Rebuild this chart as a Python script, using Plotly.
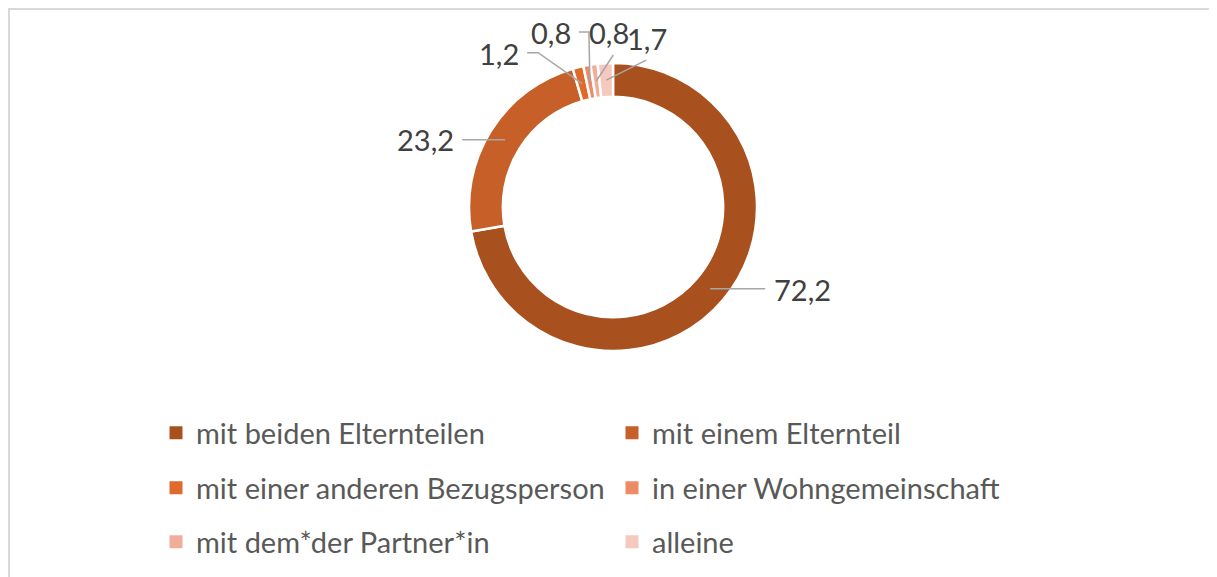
import math
import plotly.graph_objects as go

# ---- data ----
categories = [
    "mit beiden Elternteilen",
    "mit einem Elternteil",
    "mit einer anderen Bezugsperson",
    "in einer Wohngemeinschaft",
    "mit dem*der Partner*in",
    "alleine",
]
values = [72.2, 23.2, 1.2, 0.8, 0.8, 1.7]
value_labels = ["72,2", "23,2", "1,2", "0,8", "0,8", "1,7"]

# ---- style ----
colors = ["#A9501F", "#C65F28", "#E06A2C", "#EC8B66", "#F0AE9A", "#F5C9BD"]
WIN_W, WIN_H = 1217, 577
OFF = 8                      # page body margin
W, H = WIN_W - OFF, WIN_H - OFF
CX, CY, R_OUT = 613, 207, 144  # in window pixels
HOLE = 0.765
label_color = "#404040"
legend_color = "#595959"
FONT = "Lato"
FS = 29

# leader-line geometry relative to slice anchor
leaders = [
    dict(pts=[(55, 0)], text=(62, 1), xa="left"),
    dict(pts=[(-43, 0)], text=(-49, 0), xa="right"),
    dict(pts=[(-44, -31), (-55, -31)], text=(-61, -30), xa="right"),
    dict(pts=[(-1, -50), (-11, -50)], text=(-17, -50), xa="right"),
    dict(pts=[(17, -26)], text=(13, -49), xa="center"),
    dict(pts=[(40, -20)], text=(41, -42), xa="center"),
]


def px(sx):
    return (sx - OFF) / W


def py(sy):
    return (WIN_H - sy) / H


fig = go.Figure()

fig.add_trace(go.Pie(
    labels=categories,
    values=values,
    sort=False,
    direction="clockwise",
    rotation=0,
    hole=HOLE,
    marker=dict(colors=colors, line=dict(color="white", width=2.5)),
    textinfo="none",
    hoverinfo="label+value",
    showlegend=False,
    domain=dict(x=[px(CX - R_OUT), px(CX + R_OUT)],
                y=[py(CY + R_OUT), py(CY - R_OUT)]),
))

# legend entries (three rows, two columns)
legend_ids = ["legend", "legend", "legend2", "legend2", "legend3", "legend3"]
for cat, col, lg in zip(categories, colors, legend_ids):
    fig.add_trace(go.Scatter(
        x=[None], y=[None], mode="markers", name=cat,
        marker=dict(symbol="square", size=13, color=col),
        legend=lg, hoverinfo="skip",
    ))

# leader lines and labels computed from slice angles
total = sum(values)
r_mid = R_OUT * (1 + HOLE) / 2
cum = 0.0
shapes = []
annotations = []
for v, lab, ld in zip(values, value_labels, leaders):
    mid = (cum + v / 2) / total * 2 * math.pi
    cum += v
    ax = CX + r_mid * math.sin(mid)
    ay = CY - r_mid * math.cos(mid)
    path = f"M {ax:.1f},{ay:.1f}"
    for dx, dy in ld["pts"]:
        path += f" L {ax + dx:.1f},{ay + dy:.1f}"
    shapes.append(dict(type="path", path=path, xref="x", yref="y",
                       line=dict(color="#A6A6A6", width=1.5)))
    tx, ty = ld["text"]
    annotations.append(dict(x=ax + tx, y=ay + ty, xref="x", yref="y", text=lab,
                            showarrow=False, xanchor=ld["xa"], yanchor="middle",
                            font=dict(family=FONT, size=FS, color=label_color)))

# chart frame
shapes.append(dict(type="rect", xref="x", yref="y", x0=9, y0=9, x1=WIN_W + 20, y1=WIN_H + 20,
                   line=dict(color="#D9D9D9", width=2), layer="below"))

leg_common = dict(orientation="h", entrywidth=411, entrywidthmode="pixels",
                  font=dict(family=FONT, size=FS, color=legend_color),
                  x=px(156), xanchor="left", yanchor="middle",
                  bgcolor="rgba(0,0,0,0)", borderwidth=0)

fig.update_layout(
    width=W, height=H,
    margin=dict(l=0, r=0, t=0, b=0),
    paper_bgcolor="white", plot_bgcolor="white",
    xaxis=dict(range=[OFF, WIN_W], visible=False, fixedrange=True, domain=[0, 1]),
    yaxis=dict(range=[WIN_H, OFF], visible=False, fixedrange=True, domain=[0, 1]),
    shapes=shapes,
    annotations=annotations,
    legend=dict(y=py(433), **leg_common),
    legend2=dict(y=py(488), **leg_common),
    legend3=dict(y=py(542), **leg_common),
)

fig.write_html("out.html")
